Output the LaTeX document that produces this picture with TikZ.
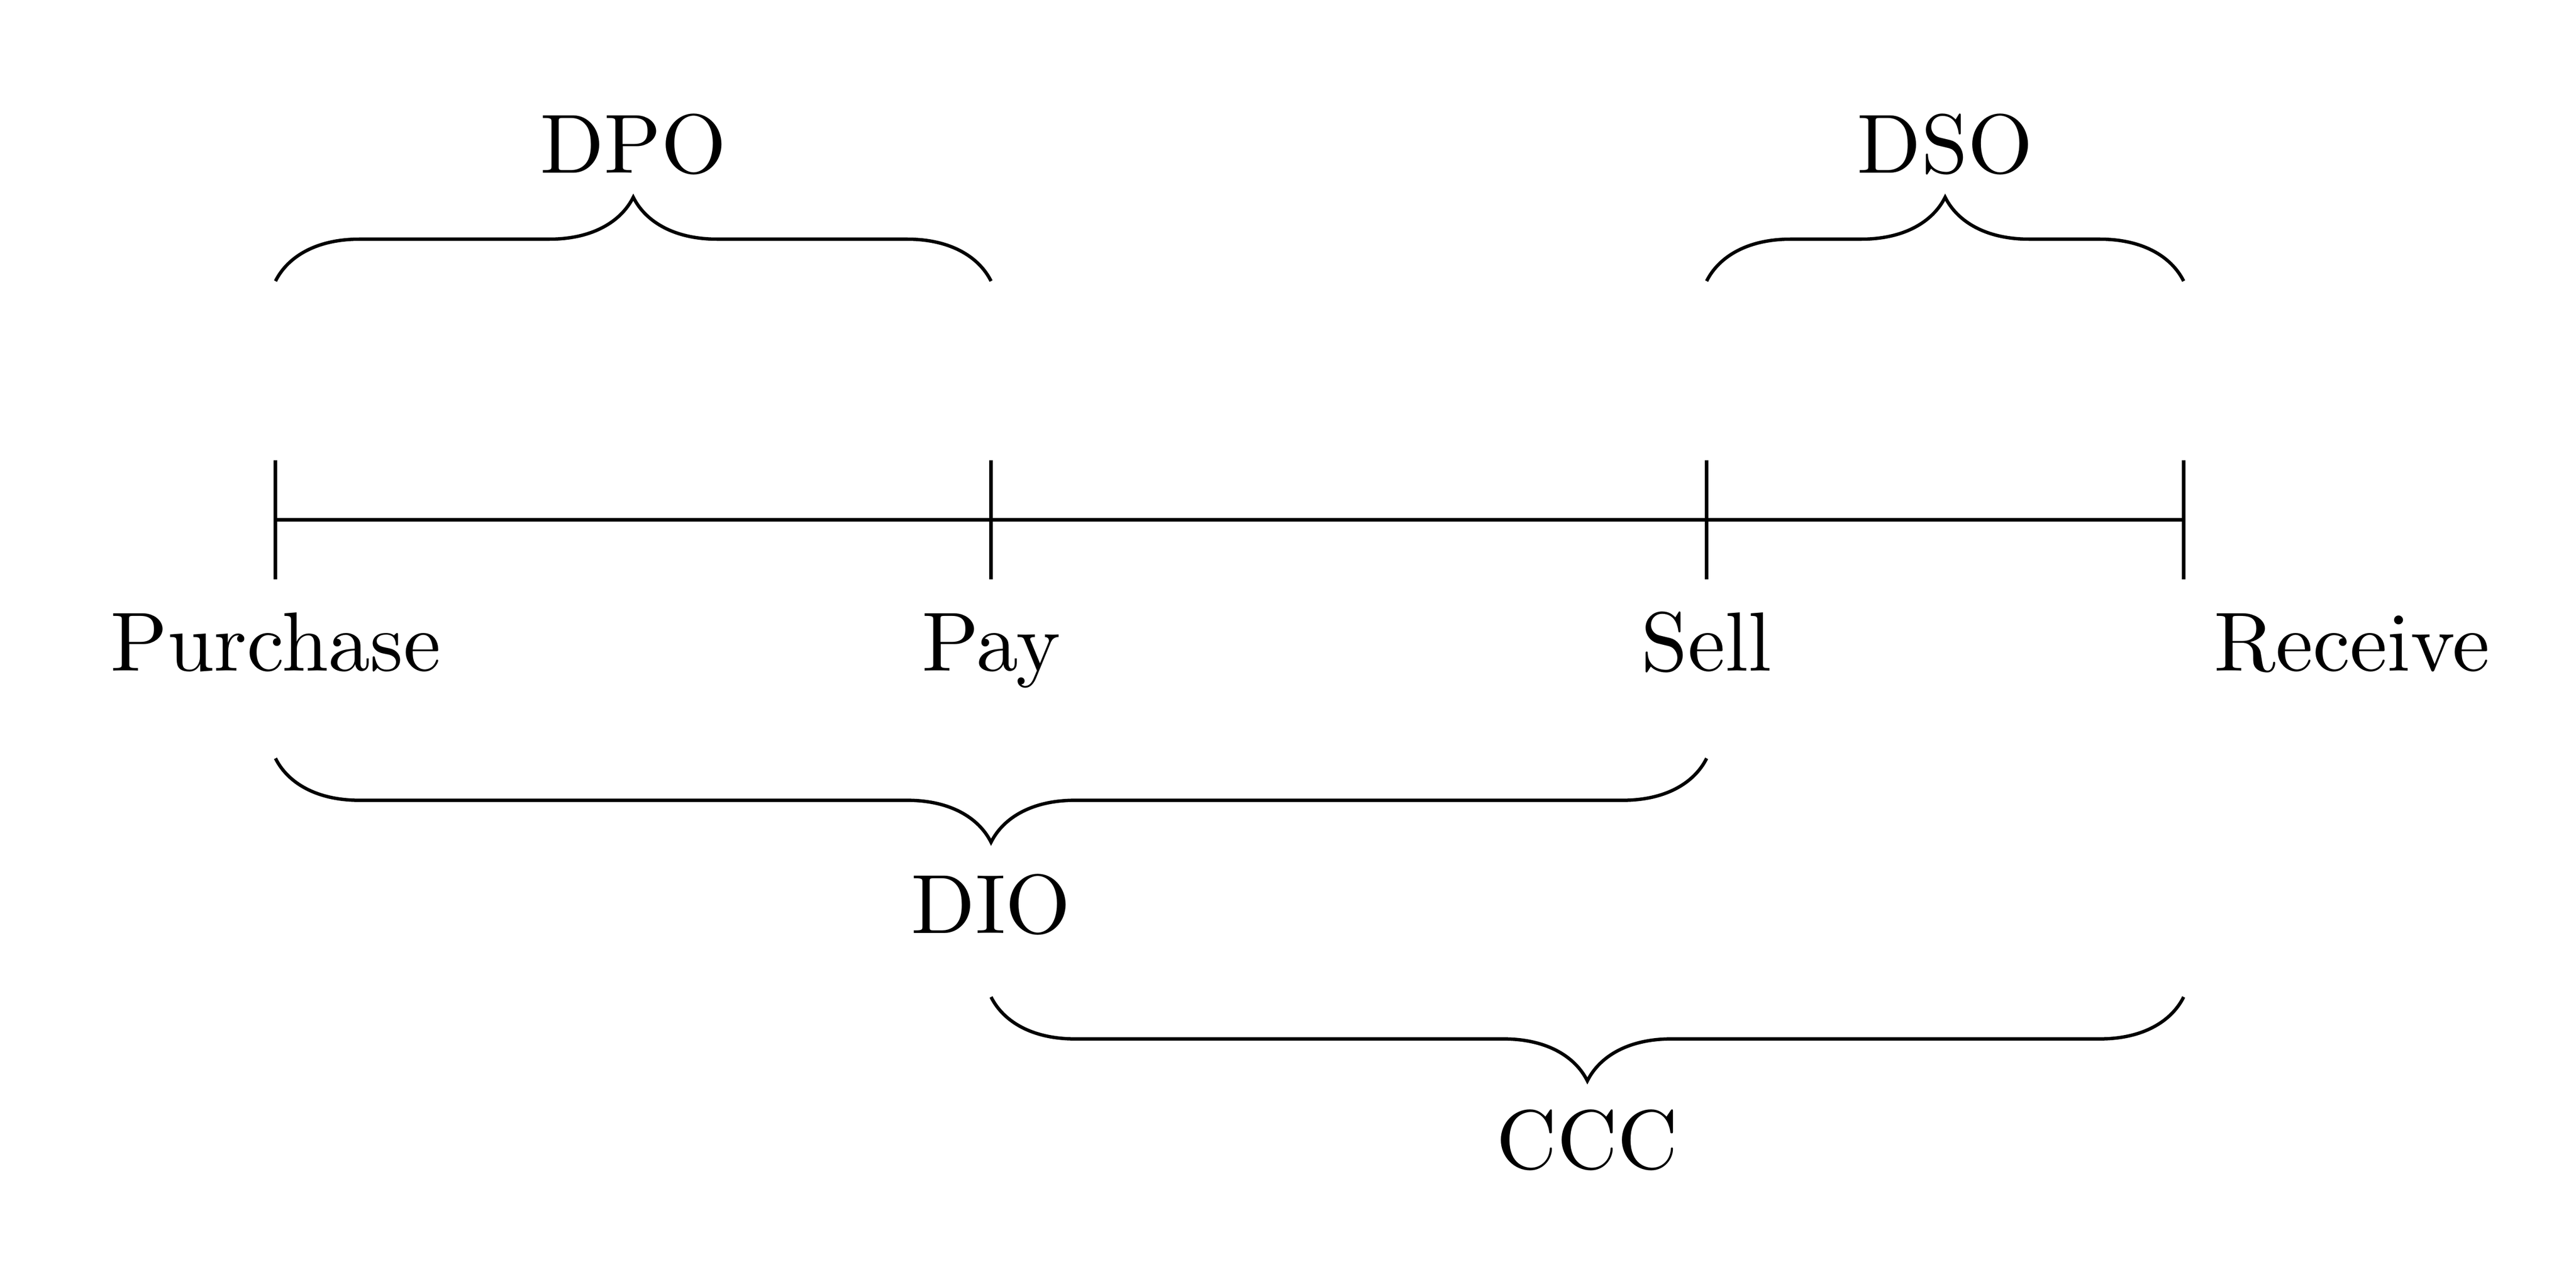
\documentclass[tikz,border=0pt]{standalone}
\usetikzlibrary{decorations.pathreplacing}
\begin{document}
\begin{tikzpicture}
\tikzset{
  bracedec/.style={decorate,decoration={brace,amplitude=10pt}},
  bracedecm/.style={decorate,decoration={brace,amplitude=10pt,mirror}},
  ticklbl/.style={anchor=base,inner sep=0pt},
}
\useasboundingbox (-1.155,-3.138) rectangle (9.645,2.178);
% timeline points
\coordinate (p0) at (0,0);
\coordinate (p1) at (3,0);
\coordinate (p2) at (6,0);
\coordinate (p3) at (8,0);
\foreach \n/\x in {0/0,1/3,2/6,3/8}{
  \coordinate (t\n) at (\x,0.25);
  \coordinate (b\n) at (\x,-0.25);
}
\draw (p0) -- (p3);
\foreach \n in {0,1,2,3}{ \draw (t\n) -- (b\n); }
% labels
\node[ticklbl] (lp) at (0,-0.633) {Purchase};
\node[ticklbl] (lpay) at (3,-0.633) {Pay};
\node[ticklbl] (ls) at (6,-0.633) {Sell};
\node[ticklbl,anchor=base west] (lr) at (8.12,-0.633) {Receive};
% brace endpoints
\coordinate (u0) at (0,1);
\coordinate (u1) at (3,1);
\coordinate (u2) at (6,1);
\coordinate (u3) at (8,1);
\coordinate (d0) at (0,-1);
\coordinate (d2) at (6,-1);
\coordinate (e1) at (3,-2);
\coordinate (e3) at (8,-2);
\draw[bracedec] (u0) -- (u1);
\draw[bracedec] (u2) -- (u3);
\draw[bracedecm] (d0) -- (d2);
\draw[bracedecm] (e1) -- (e3);
\node[ticklbl] (dpo) at (1.5,1.454) {DPO};
\node[ticklbl] (dso) at (7,1.454) {DSO};
\node[ticklbl] (dio) at (3,-1.733) {DIO};
\node[ticklbl] (ccc) at (5.5,-2.72) {CCC};
\end{tikzpicture}
\end{document}
